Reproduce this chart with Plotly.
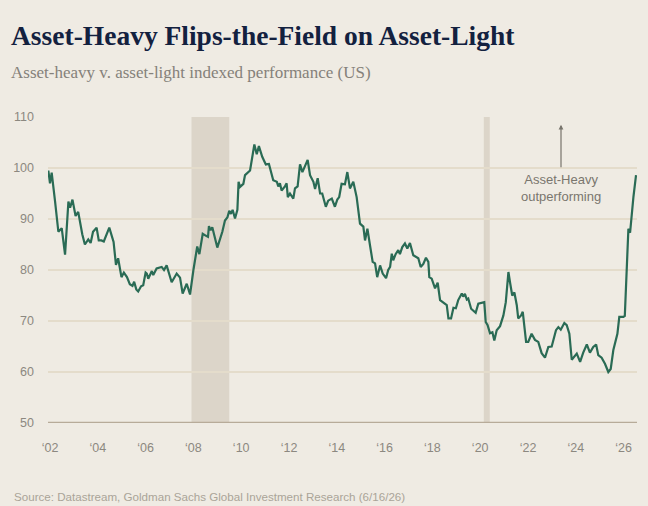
import plotly.graph_objects as go

# ---- data (decimal year, indexed performance) ----
years = [
    2001.93, 2002.00, 2002.07, 2002.13, 2002.21, 2002.35, 2002.49, 2002.63, 2002.77, 2002.84,
    2002.94, 2003.07, 2003.18, 2003.35, 2003.46, 2003.60, 2003.70, 2003.80, 2003.95, 2004.04,
    2004.15, 2004.25, 2004.48, 2004.66, 2004.76, 2004.85, 2004.99, 2005.09, 2005.22, 2005.34,
    2005.45, 2005.52, 2005.61, 2005.69, 2005.81, 2005.90, 2006.00, 2006.05, 2006.11, 2006.26,
    2006.32, 2006.46, 2006.67, 2006.77, 2006.88, 2007.09, 2007.30, 2007.44, 2007.55, 2007.72,
    2007.86, 2008.00, 2008.16, 2008.25, 2008.39, 2008.53, 2008.61, 2008.65, 2008.72, 2008.79,
    2009.00, 2009.21, 2009.32, 2009.42, 2009.50, 2009.57, 2009.64, 2009.74, 2009.84, 2009.89,
    2009.95, 2010.09, 2010.16, 2010.37, 2010.55, 2010.65, 2010.74, 2010.88, 2011.03, 2011.16,
    2011.25, 2011.34, 2011.49, 2011.55, 2011.62, 2011.69, 2011.83, 2011.90, 2011.95, 2012.04,
    2012.18, 2012.25, 2012.36, 2012.46, 2012.56, 2012.67, 2012.78, 2012.88, 2013.02, 2013.09,
    2013.20, 2013.30, 2013.39, 2013.54, 2013.64, 2013.79, 2013.92, 2014.02, 2014.10, 2014.20,
    2014.34, 2014.44, 2014.55, 2014.69, 2014.83, 2014.97, 2015.11, 2015.18, 2015.28, 2015.39,
    2015.50, 2015.60, 2015.69, 2015.81, 2015.92, 2016.06, 2016.15, 2016.23, 2016.30, 2016.36,
    2016.46, 2016.57, 2016.64, 2016.74, 2016.85, 2016.95, 2017.06, 2017.20, 2017.41, 2017.51,
    2017.62, 2017.73, 2017.83, 2017.87, 2017.97, 2018.11, 2018.22, 2018.32, 2018.46, 2018.60,
    2018.67, 2018.78, 2018.88, 2018.98, 2019.08, 2019.15, 2019.23, 2019.29, 2019.36, 2019.44,
    2019.50, 2019.62, 2019.71, 2019.81, 2019.92, 2020.06, 2020.17, 2020.23, 2020.31, 2020.41,
    2020.51, 2020.59, 2020.69, 2020.83, 2020.97, 2021.07, 2021.18, 2021.25, 2021.34, 2021.43,
    2021.53, 2021.59, 2021.71, 2021.78, 2021.87, 2021.92, 2022.01, 2022.15, 2022.29, 2022.43,
    2022.57, 2022.71, 2022.85, 2022.99, 2023.17, 2023.27, 2023.37, 2023.52, 2023.62, 2023.73,
    2023.83, 2023.92, 2024.04, 2024.18, 2024.31, 2024.46, 2024.59, 2024.73, 2024.85, 2024.94,
    2025.08, 2025.22, 2025.36, 2025.46, 2025.57, 2025.74, 2025.82, 2025.99, 2026.05, 2026.20,
    2026.27, 2026.41, 2026.52,
]
values = [
    99.5, 97.0, 99.1, 97.0, 93.5, 87.5, 88.2, 83.0, 93.4, 92.2,
    93.8, 90.6, 91.4, 87.0, 85.0, 86.0, 85.3, 87.5, 88.3, 85.8,
    85.8, 85.6, 88.3, 85.5, 81.0, 82.3, 78.6, 79.5, 78.6, 77.2,
    76.9, 77.7, 76.2, 75.8, 76.8, 77.0, 79.5, 79.3, 78.3, 79.8,
    79.0, 80.3, 80.6, 80.0, 80.9, 77.6, 79.3, 78.5, 75.4, 77.3,
    75.2, 80.0, 84.6, 83.1, 87.1, 86.7, 86.5, 88.6, 87.8, 88.4,
    84.4, 87.5, 89.7, 90.3, 91.6, 91.0, 91.8, 90.1, 91.8, 97.3,
    96.3, 96.9, 98.6, 99.5, 104.6, 102.7, 104.3, 102.2, 100.7, 100.8,
    99.2, 97.6, 97.3, 96.4, 97.0, 95.6, 96.4, 97.0, 94.3, 95.0,
    94.0, 96.0, 96.4, 100.7, 99.2, 100.5, 101.6, 98.6, 97.3, 95.9,
    98.0, 95.0, 95.0, 92.4, 93.6, 94.0, 92.4, 93.8, 94.3, 96.9,
    96.8, 99.2, 96.0, 97.3, 94.3, 89.1, 88.5, 85.8, 88.1, 84.8,
    81.6, 81.3, 78.6, 80.9, 79.3, 78.4, 80.0, 80.6, 83.2, 81.9,
    83.1, 83.9, 83.1, 84.5, 85.2, 84.2, 85.3, 82.9, 82.3, 80.6,
    81.2, 82.4, 81.6, 78.6, 78.3, 76.4, 77.5, 74.1, 73.5, 73.1,
    70.5, 70.5, 72.6, 72.5, 74.1, 74.8, 75.4, 74.8, 75.3, 74.2,
    74.4, 72.4, 72.1, 71.6, 73.4, 73.6, 73.7, 69.8, 69.2, 67.6,
    67.8, 66.2, 68.2, 69.0, 71.1, 73.7, 79.6, 77.5, 75.0, 75.6,
    73.1, 70.5, 71.1, 71.8, 68.2, 65.9, 65.9, 67.5, 66.3, 65.9,
    63.7, 62.8, 64.9, 65.0, 68.2, 68.8, 68.3, 69.6, 69.2, 67.5,
    62.4, 62.9, 63.6, 62.0, 63.8, 65.4, 63.8, 64.9, 65.4, 63.3,
    62.8, 61.6, 60.0, 60.6, 64.3, 67.5, 70.8, 70.8, 71.0, 88.1,
    87.3, 94.3, 98.6,
]

# recession periods (start, end)
recessions = [(2007.92, 2009.50), (2020.15, 2020.40)]

tick_years = list(range(2002, 2027, 2))
tick_labels = ["\u2018" + str(y)[2:] for y in tick_years]
y_ticks = [50, 60, 70, 80, 90, 100, 110]

BG = "#efebe3"
LINE = "#2a6b55"
GRID = "#e4dccb"
TXT = "#8c8880"

PW = 589.0   # plot width px
PH = 306.0   # plot height px

fig = go.Figure()
fig.add_trace(go.Scatter(
    x=years, y=values, mode="lines",
    line=dict(color=LINE, width=2.2),
    hoverinfo="skip", showlegend=False,
))

shapes = []
for a, b in recessions:
    shapes.append(dict(type="rect", xref="x", yref="paper", x0=a, x1=b, y0=0, y1=1,
                       fillcolor="#dcd5c9", line=dict(width=0), layer="below"))
shapes.append(dict(type="line", xref="paper", yref="y", x0=0, x1=1, y0=50, y1=50,
                   line=dict(color="#b7ab99", width=2.5), layer="above"))

fig.update_layout(
    width=648, height=506,
    paper_bgcolor=BG, plot_bgcolor=BG,
    margin=dict(l=48, r=11, t=117, b=83),
    shapes=shapes,
    xaxis=dict(
        range=[2001.916, 2026.56], showgrid=False, zeroline=False, showline=False,
        tickmode="array", tickvals=tick_years, ticktext=tick_labels,
        ticks="", tickfont=dict(family="Liberation Sans, Arial", size=12.5, color=TXT),
        ticklabelstandoff=15,
    ),
    yaxis=dict(
        range=[50, 110], showgrid=True, gridcolor=GRID, gridwidth=1.5,
        zeroline=False, showline=False, tickmode="array", tickvals=y_ticks,
        ticks="", tickfont=dict(family="Liberation Sans, Arial", size=12.5, color=TXT),
        ticklabelstandoff=13,
    ),
    annotations=[
        dict(xref="paper", yref="paper", x=(9 - 48) / PW, y=1 + (117 - 35) / PH,
             xanchor="left", yanchor="middle",
             text="<b>Asset-Heavy Flips-the-Field on Asset-Light</b>", showarrow=False,
             font=dict(family="Liberation Serif, serif", size=27.5, color="#13213f")),
        dict(xref="paper", yref="paper", x=(9 - 48) / PW, y=1 + (117 - 72) / PH,
             xanchor="left", yanchor="middle",
             text="Asset-heavy v. asset-light indexed performance (US)", showarrow=False,
             font=dict(family="Liberation Serif, serif", size=17, color="#85817a")),
        dict(xref="paper", yref="paper", x=(12 - 48) / PW, y=-(496 - 423) / PH,
             xanchor="left", yanchor="middle",
             text="Source: Datastream, Goldman Sachs Global Investment Research (6/16/26)",
             showarrow=False,
             font=dict(family="Liberation Sans, Arial", size=11.6, color="#aaa498")),
        dict(x=2023.38, y=108.5, xref="x", yref="y", text="", showarrow=True,
             ax=0, ay=44, arrowhead=2, arrowsize=0.8, arrowwidth=1.2, arrowcolor="#77746c"),
        dict(x=2023.38, y=96.0, xref="x", yref="y", text="Asset-Heavy<br>outperforming",
             showarrow=False, xanchor="center", yanchor="middle",
             font=dict(family="Liberation Sans, Arial", size=13, color="#7a766e")),
    ],
)

fig.write_html("out.html")
